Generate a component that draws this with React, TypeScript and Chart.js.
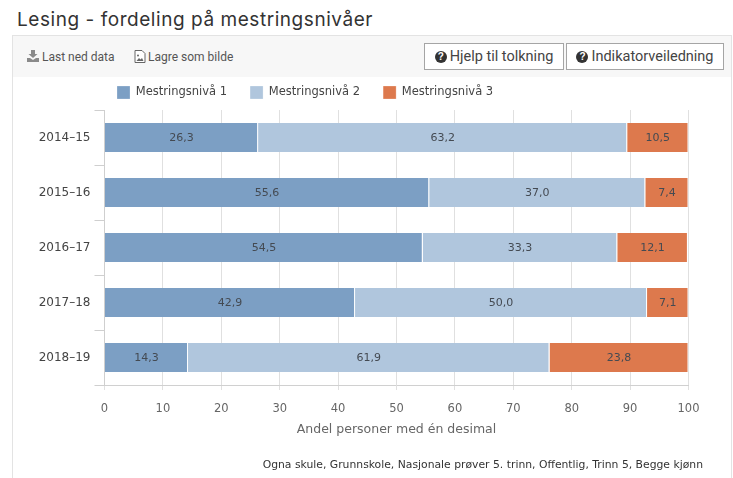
import React, { useEffect, useRef } from "react";
import { Chart, registerables } from "chart.js";

Chart.register(...registerables);

const categories = ["2014–15", "2015–16", "2016–17", "2017–18", "2018–19"];
const niva1 = [26.3, 55.6, 54.5, 42.9, 14.3];
const niva2 = [63.2, 37.0, 33.3, 50.0, 61.9];
const niva3 = [10.5, 7.4, 12.1, 7.1, 23.8];
const seriesNames = ["Mestringsnivå 1", "Mestringsnivå 2", "Mestringsnivå 3"];
const seriesColors = ["#7c9fc4", "#b0c6dd", "#dd794d"];
const axisTitle = "Andel personer med én desimal";
const footnote = "Ogna skule, Grunnskole, Nasjonale prøver 5. trinn, Offentlig, Trinn 5, Begge kjønn";
const FONT = "'DejaVu Sans', sans-serif";

const barLabels = {
  id: "barLabels",
  afterDatasetsDraw(chart: any) {
    const { ctx } = chart;
    ctx.save();
    ctx.font = `11px ${FONT}`;
    ctx.fillStyle = "#444a52";
    ctx.textAlign = "center";
    ctx.textBaseline = "middle";
    chart.data.datasets.forEach((ds: any, i: number) => {
      chart.getDatasetMeta(i).data.forEach((bar: any, j: number) => {
        const p = bar.getProps(["x", "y", "base"], true);
        ctx.fillText(ds.data[j].toFixed(1).replace(".", ","), (p.x + p.base) / 2, p.y + 0.5);
      });
    });
    ctx.restore();
  },
};

const legendShift = {
  id: "legendShift",
  afterLayout(chart: any) {
    chart.legend.left = 81;
    chart.legend.top = -14;
  },
};

function Icon({ kind }: { kind: "q" | "dl" | "img" }) {
  if (kind === "q") {
    return (
      <span style={{ display: "inline-block", width: 12, height: 12, borderRadius: 6, background: "#333", color: "#fff", fontSize: 10, lineHeight: "12px", textAlign: "center", fontWeight: 700, marginRight: 3, verticalAlign: "1px", fontFamily: "'Liberation Sans', sans-serif" }}>?</span>
    );
  }
  if (kind === "dl") {
    return (
      <svg width="12" height="12" viewBox="0 0 12 12" style={{ marginRight: 3, verticalAlign: "-1px" }}>
        <path d="M4 0h4v4h2.5L6 8 1.5 4H4z M0 8h3l3 2 3-2h3v4H0z" fill="#8a8a8a" />
      </svg>
    );
  }
  return (
    <svg width="12" height="13" viewBox="0 0 12 13" style={{ marginRight: 2, verticalAlign: "-2px" }}>
      <path d="M1 .5h7l3 3v9H1z" fill="#fff" stroke="#666" />
      <path d="M2.5 11l2.5-3 1.5 1.5L8 8l1.5 3z" fill="#666" />
      <circle cx="4" cy="5.5" r="1" fill="#666" />
    </svg>
  );
}

const btn: React.CSSProperties = {
  position: "absolute", top: 43, height: 27, boxSizing: "border-box", border: "1px solid #a5a5a5",
  background: "#fff", color: "#444", fontFamily: "Roboto, sans-serif", fontSize: 14.5,
  lineHeight: "25px", textAlign: "center", whiteSpace: "nowrap",
};
const tool: React.CSSProperties = {
  position: "absolute", top: 50, color: "#555", fontFamily: "Roboto, sans-serif", fontSize: 12,
  lineHeight: "15px", whiteSpace: "nowrap",
};

export default function App() {
  const ref = useRef<HTMLCanvasElement>(null);
  useEffect(() => {
    document.body.style.margin = "0";
    const chart = new Chart(ref.current!, {
      type: "bar",
      data: {
        labels: categories,
        datasets: [niva1, niva2, niva3].map((data, i) => ({
          label: seriesNames[i],
          data,
          backgroundColor: seriesColors[i],
          borderColor: "#ffffff",
          borderWidth: { left: 0, top: 0, bottom: 0, right: 1 },
          borderSkipped: false,
          barPercentage: 0.525,
          categoryPercentage: 1,
        })),
      },
      plugins: [barLabels, legendShift],
      options: {
        indexAxis: "y",
        animation: false,
        responsive: false,
        layout: { padding: { top: -13, right: 41.5, bottom: 41, left: 0 } },
        plugins: {
          tooltip: { enabled: false },
          legend: {
            position: "top",
            align: "start",
            labels: { boxWidth: 13, boxHeight: 13, padding: 23, color: "#444", font: { family: FONT, size: 11.5 } },
          },
        },
        scales: {
          x: {
            stacked: true,
            min: 0,
            max: 100,
            afterFit: (s: any) => { s.height = 52; },
            ticks: { stepSize: 10, maxRotation: 0, color: "#666", font: { family: FONT, size: 11.5 }, padding: 12 },
            grid: { color: "#e0e0e0", tickLength: 5 },
            border: { color: "#d0d0d0" },
            title: { display: true, text: axisTitle, color: "#666", font: { family: FONT, size: 12.5 }, padding: { top: 7, bottom: 0 } },
          },
          y: {
            stacked: true,
            afterFit: (s: any) => { s.width = 91.5; },
            ticks: { color: "#444", font: { family: FONT, size: 12 }, padding: 4 },
            grid: { offset: true, drawOnChartArea: false, color: "#cfcfcf", tickLength: 10 },
            border: { color: "#cfcfcf" },
          },
        },
      },
    } as any);
    return () => chart.destroy();
  }, []);

  return (
    <div style={{ position: "relative", width: 733, height: 478, overflow: "hidden", background: "#fff" }}>
      <div style={{ position: "absolute", left: 17, top: 8, fontFamily: "Inter, sans-serif", fontSize: 19, color: "#333", letterSpacing: 0.55, whiteSpace: "nowrap" }}>
        Lesing - fordeling på mestringsnivåer
      </div>
      <div style={{ position: "absolute", left: 12, top: 35, width: 720, height: 443, boxSizing: "border-box", border: "1px solid #e3e3e3", borderBottom: "none" }} />
      <div style={{ position: "absolute", left: 13, top: 36, width: 718, height: 41, background: "#f7f7f7" }} />
      <div style={{ ...tool, left: 27 }}><Icon kind="dl" />Last ned data</div>
      <div style={{ ...tool, left: 134 }}><Icon kind="img" />Lagre som bilde</div>
      <div style={{ ...btn, left: 424, width: 140 }}><Icon kind="q" />Hjelp til tolkning</div>
      <div style={{ ...btn, left: 566, width: 158 }}><Icon kind="q" />Indikatorveiledning</div>
      <div style={{ position: "absolute", left: 13, top: 77, width: 717, height: 401 }}>
        <canvas ref={ref} width={717} height={401} style={{ display: "block" }} />
      </div>
      <div style={{ position: "absolute", right: 30, top: 458, fontFamily: FONT, fontSize: 10.8, color: "#333", whiteSpace: "nowrap" }}>
        {footnote}
      </div>
    </div>
  );
}
